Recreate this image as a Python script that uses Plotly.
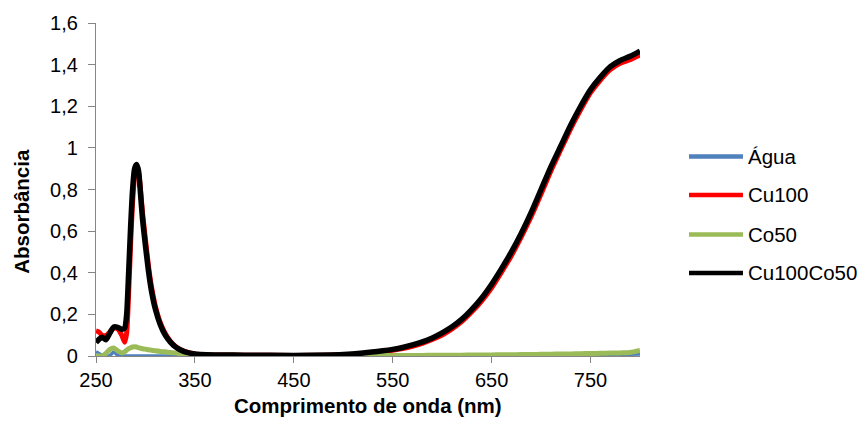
import plotly.graph_objects as go

# Wavelengths (nm) shared by all spectra
wavelength = [250, 253, 256, 260, 264, 268, 272, 276, 279, 281,
              283, 285, 287, 289, 291, 293, 295, 297, 300, 303,
              306, 310, 315, 320, 325, 330, 335, 340, 350, 375,
              400, 450, 500, 520, 540, 550, 560, 570, 580, 590,
              600, 610, 620, 630, 640, 650, 660, 670, 680, 690,
              700, 710, 720, 730, 740, 750, 760, 770, 780, 790,
              800]

agua = [0.020, 0.012, 0.004, 0.000, 0.002, 0.020, 0.003, 0.000, 0.000, 0.000,
        0.000, 0.000, 0.000, 0.000, 0.000, 0.000, 0.000, 0.000, 0.000, 0.000,
        0.000, 0.000, 0.000, 0.000, 0.000, 0.000, 0.000, 0.000, 0.000, 0.000,
        0.000, 0.000, 0.000, 0.000, 0.000, 0.000, 0.000, 0.000, 0.000, 0.000,
        0.000, 0.001, 0.001, 0.001, 0.001, 0.001, 0.002, 0.002, 0.002, 0.002,
        0.002, 0.003, 0.003, 0.004, 0.004, 0.005, 0.006, 0.007, 0.008, 0.009,
        0.010]

cu100 = [0.120, 0.115, 0.100, 0.098, 0.115, 0.135, 0.130, 0.100, 0.066, 0.110,
         0.300, 0.540, 0.740, 0.860, 0.895, 0.880, 0.800, 0.690, 0.560, 0.435,
         0.335, 0.240, 0.160, 0.108, 0.072, 0.047, 0.031, 0.021, 0.010, 0.005,
         0.004, 0.003, 0.006, 0.012, 0.022, 0.028, 0.036, 0.047, 0.061, 0.079,
         0.101, 0.130, 0.166, 0.212, 0.265, 0.328, 0.403, 0.482, 0.572, 0.670,
         0.778, 0.890, 0.992, 1.093, 1.183, 1.265, 1.326, 1.376, 1.406, 1.424,
         1.447]

co50 = [0.003, 0.000, 0.000, 0.012, 0.032, 0.038, 0.025, 0.015, 0.020, 0.028,
        0.035, 0.040, 0.043, 0.044, 0.043, 0.040, 0.037, 0.035, 0.033, 0.030,
        0.028, 0.025, 0.022, 0.020, 0.017, 0.015, 0.012, 0.010, 0.007, 0.004,
        0.003, 0.002, 0.002, 0.002, 0.003, 0.003, 0.003, 0.003, 0.003, 0.004,
        0.004, 0.004, 0.004, 0.005, 0.005, 0.005, 0.006, 0.006, 0.007, 0.007,
        0.008, 0.009, 0.010, 0.010, 0.011, 0.012, 0.013, 0.014, 0.015, 0.017,
        0.027]

cu100co50 = [0.065, 0.080, 0.090, 0.078, 0.110, 0.140, 0.138, 0.128, 0.135, 0.200,
             0.400, 0.620, 0.800, 0.900, 0.920, 0.890, 0.780, 0.660, 0.530, 0.410,
             0.315, 0.225, 0.150, 0.100, 0.068, 0.045, 0.030, 0.020, 0.010, 0.005,
             0.004, 0.003, 0.007, 0.014, 0.025, 0.032, 0.041, 0.053, 0.068, 0.087,
             0.111, 0.140, 0.177, 0.224, 0.279, 0.345, 0.420, 0.500, 0.590, 0.690,
             0.800, 0.910, 1.010, 1.110, 1.200, 1.280, 1.340, 1.390, 1.420, 1.440,
             1.465]

series_names = ["Água", "Cu100", "Co50", "Cu100Co50"]
series_values = [agua, cu100, co50, cu100co50]
series_colors = ["#4F81BD", "#FF0000", "#9BBB59", "#000000"]
series_widths = [3.5, 5, 5, 5.5]

x_ticks = [250, 350, 450, 550, 650, 750]
y_tickvals = [0, 0.2, 0.4, 0.6, 0.8, 1.0, 1.2, 1.4, 1.6]
y_ticktext = ["0", "0,2", "0,4", "0,6", "0,8", "1", "1,2", "1,4", "1,6"]

FONT = "Liberation Sans, Arial, sans-serif"
AXIS_GRAY = "#868686"

fig = go.Figure()
for name, vals, color, w in zip(series_names, series_values, series_colors, series_widths):
    fig.add_trace(go.Scatter(
        x=wavelength, y=vals, name=name, mode="lines",
        line=dict(color=color, width=w, shape="spline", smoothing=0.6),
        showlegend=False,
    ))

# Legend drawn as line samples with labels beside them
leg_x0, leg_x1, leg_text_x = 1.0901, 1.1893, 1.1949
leg_rows = [0.5994, 0.4837, 0.3650, 0.2493]
shapes = []
annotations = []
for name, color, yrow in zip(series_names, series_colors, leg_rows):
    shapes.append(dict(type="line", xref="paper", yref="paper",
                       x0=leg_x0, x1=leg_x1, y0=yrow, y1=yrow,
                       line=dict(color=color, width=4.5)))
    annotations.append(dict(xref="paper", yref="paper", x=leg_text_x, y=yrow,
                            text=name, showarrow=False, xanchor="left", yanchor="middle",
                            font=dict(family=FONT, size=20.5, color="#000000")))

# Axis titles
annotations.append(dict(xref="paper", yref="paper", x=0.5, y=-0.148,
                        text="<b>Comprimento de onda (nm)</b>", showarrow=False,
                        xanchor="center", yanchor="middle",
                        font=dict(family=FONT, size=20.5, color="#000000")))
annotations.append(dict(xref="paper", yref="paper", x=-0.136, y=0.433,
                        text="<b>Absorbância</b>", showarrow=False, textangle=-90,
                        xanchor="center", yanchor="middle",
                        font=dict(family=FONT, size=20.5, color="#000000")))

fig.update_layout(
    width=861, height=428,
    margin=dict(l=96, r=221, t=19, b=72),
    paper_bgcolor="#FFFFFF", plot_bgcolor="#FFFFFF",
    font=dict(family=FONT, size=20, color="#000000"),
    shapes=shapes, annotations=annotations,
    xaxis=dict(range=[250, 800], tickvals=x_ticks, showgrid=False, zeroline=False,
               showline=True, linecolor=AXIS_GRAY, linewidth=1.3,
               ticks="outside", ticklen=6, tickcolor=AXIS_GRAY, tickwidth=1.3,
               tickfont=dict(family=FONT, size=20, color="#000000")),
    yaxis=dict(range=[0, 1.6], tickvals=y_tickvals, ticktext=y_ticktext,
               showgrid=False, zeroline=False,
               showline=True, linecolor=AXIS_GRAY, linewidth=1.3,
               ticks="outside", ticklen=7, tickcolor=AXIS_GRAY, tickwidth=1.3,
               ticklabelstandoff=6,
               tickfont=dict(family=FONT, size=20, color="#000000")),
)

fig.write_html("out.html")
